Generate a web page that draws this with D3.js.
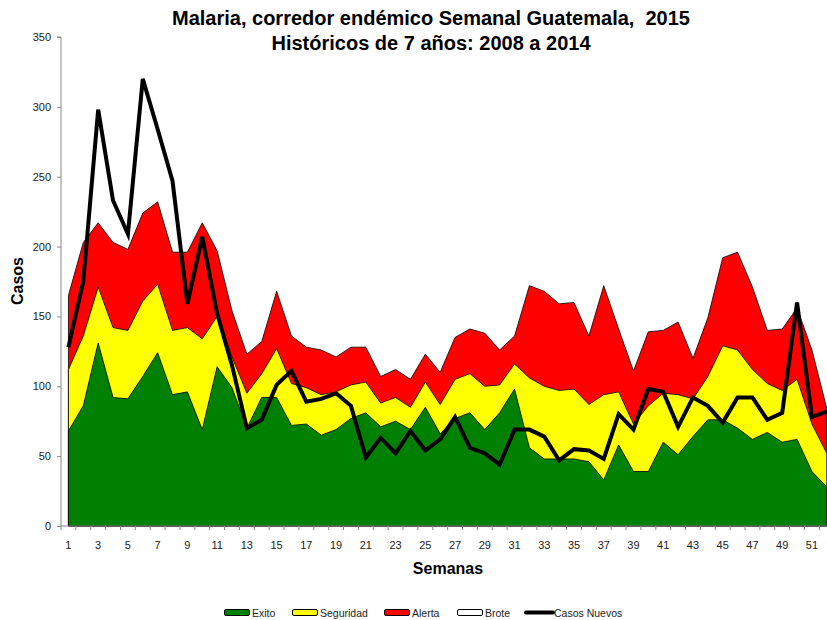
<!DOCTYPE html>
<html>
<head>
<meta charset="utf-8">
<script src="https://cdn.jsdelivr.net/npm/d3@7"></script>
<style>
  html, body { margin: 0; padding: 0; background: #fff; }
  svg { display: block; }
</style>
</head>
<body>
<div id="chart"></div>
<script>
const semanas = d3.range(1, 53);
const exito = [68, 86, 131, 92, 91, 107, 124, 94, 96, 69, 114, 99, 70, 92, 92, 72, 73, 65, 69, 77, 81, 71, 75, 69, 85, 66, 77, 81, 69, 81, 98, 56, 48, 48, 48, 46, 33, 58, 39, 39, 60, 51, 64, 76, 76, 70, 62, 67, 60, 62, 39, 28];
const seguridad = [112, 136, 171, 142, 140, 161, 173, 140, 142, 134, 150, 121, 95, 109, 127, 102, 99, 94, 96, 101, 103, 88, 92, 85, 103, 87, 105, 109, 100, 101, 116, 106, 100, 97, 98, 87, 94, 96, 73, 86, 95, 94, 91, 107, 129, 126, 112, 102, 97, 105, 73, 52];
const alerta = [165, 203, 217, 203, 198, 224, 232, 196, 196, 217, 197, 154, 123, 132, 168, 136, 128, 126, 121, 128, 128, 107, 112, 105, 123, 110, 135, 141, 138, 126, 136, 172, 168, 159, 160, 136, 172, 141, 111, 139, 140, 146, 120, 149, 192, 196, 171, 140, 141, 156, 126, 84];
const casosNuevos = [128, 175, 298, 233, 209, 320, 284, 247, 159, 207, 152, 115, 70, 76, 101, 111, 89, 91, 95, 86, 49, 63, 52, 68, 54, 62, 78, 56, 52, 44, 69, 69, 64, 47, 55, 54, 48, 80, 69, 98, 96, 71, 92, 86, 74, 92, 92, 76, 81, 160, 78, 82];
const yTicks = [0, 50, 100, 150, 200, 250, 300, 350];
const xTickLabels = semanas.filter(d => d % 2 === 1);
const legendItems = ["Exito", "Seguridad", "Alerta", "Brote", "Casos Nuevos"];

(function () {
const W = 827, H = 620;
const pLeft = 61, pTop = 37, pBottom = 526;
const step = 14.87;

const svg = d3.select("#chart").append("svg").attr("width", W).attr("height", H);

const x = d3.scaleBand().domain(semanas).range([pLeft, pLeft + step * 52]).padding(0);
const cx = d => x(d) + x.bandwidth() / 2;
const y = d3.scaleLinear().domain([0, 350]).range([pBottom, pTop]);

const layers = [
  { hi: exito, fill: "#008000" },
  { hi: seguridad, fill: "#FFFF00" },
  { hi: alerta, fill: "#FF0000" }
];
const g = svg.append("g");
const area = d3.area()
  .x((d, i) => cx(semanas[i]))
  .y0(() => y(0))
  .y1(d => y(d));
[...layers].reverse().forEach(L => {
  g.append("path")
    .datum(L.hi)
    .attr("d", area)
    .attr("fill", L.fill)
    .attr("stroke", "#000")
    .attr("stroke-width", 0.8)
    .attr("stroke-linejoin", "round");
});

const line = d3.line().x((d, i) => cx(semanas[i])).y(d => y(d));
svg.append("path")
  .datum(casosNuevos)
  .attr("d", line)
  .attr("fill", "none")
  .attr("stroke", "#000")
  .attr("stroke-width", 4)
  .attr("stroke-linejoin", "miter");

const narrow = "'Liberation Sans Narrow', 'Arial Narrow', 'Liberation Sans', sans-serif";

const yAxis = d3.axisLeft(y).tickValues(yTicks).tickSize(4).tickPadding(6);
const ya = svg.append("g").attr("transform", `translate(${pLeft},0)`).call(yAxis);
ya.select(".domain").attr("stroke", "#888").attr("d", `M-4,${pTop}H0V${pBottom}`);
ya.selectAll(".tick line").attr("stroke", "#888");
ya.selectAll(".tick text")
  .attr("font-family", narrow)
  .attr("font-size", 11).attr("fill", "#222");

const xa = svg.append("g").attr("transform", `translate(0,${pBottom})`);
xa.append("line").attr("x1", pLeft).attr("x2", pLeft + step * 52).attr("y1", 0).attr("y2", 0).attr("stroke", "#888");
xa.selectAll("line.tk").data(d3.range(0, 53)).join("line").attr("class", "tk")
  .attr("x1", i => pLeft + i * x.bandwidth()).attr("x2", i => pLeft + i * x.bandwidth())
  .attr("y1", 0).attr("y2", 4).attr("stroke", "#888");
xa.selectAll("text").data(xTickLabels).join("text")
  .attr("x", d => cx(d)).attr("y", 23)
  .attr("text-anchor", "middle")
  .attr("font-family", narrow)
  .attr("font-size", 11).attr("fill", "#222")
  .text(d => d);

svg.append("text").attr("x", 431).attr("y", 25).attr("text-anchor", "middle")
  .attr("font-family", narrow).attr("font-weight", "bold").attr("font-size", 20)
  .style("white-space", "pre")
  .text("Malaria, corredor endémico Semanal Guatemala,  2015");
svg.append("text").attr("x", 431).attr("y", 50).attr("text-anchor", "middle")
  .attr("font-family", narrow).attr("font-weight", "bold").attr("font-size", 20)
  .text("Históricos de 7 años: 2008 a 2014");

svg.append("text").attr("x", 448).attr("y", 574).attr("text-anchor", "middle")
  .attr("font-family", narrow).attr("font-weight", "bold").attr("font-size", 16)
  .text("Semanas");
svg.append("text").attr("transform", "translate(23,281) rotate(-90)").attr("text-anchor", "middle")
  .attr("font-family", narrow).attr("font-weight", "bold").attr("font-size", 16)
  .text("Casos");

const legendX = [224, 292, 384, 457, 526];
const legendFill = ["#008000", "#FFFF00", "#FF0000", "#FFFFFF", null];
const lg = svg.append("g");
legendItems.forEach((name, i) => {
  const x0 = legendX[i];
  if (legendFill[i]) {
    lg.append("rect").attr("x", x0 + 0.5).attr("y", 609.5).attr("width", 25).attr("height", 6)
      .attr("rx", 1.5).attr("fill", legendFill[i]).attr("stroke", "#000").attr("stroke-width", 1);
  } else {
    lg.append("line").attr("x1", x0).attr("x2", x0 + 27).attr("y1", 612.5).attr("y2", 612.5)
      .attr("stroke", "#000").attr("stroke-width", 4).attr("stroke-linecap", "round");
  }
  lg.append("text").attr("x", x0 + 28).attr("y", 617)
    .attr("font-family", "'Liberation Sans', Arial, sans-serif").attr("font-size", 10.5).attr("fill", "#222")
    .text(name);
});
})();
</script>
</body>
</html>
